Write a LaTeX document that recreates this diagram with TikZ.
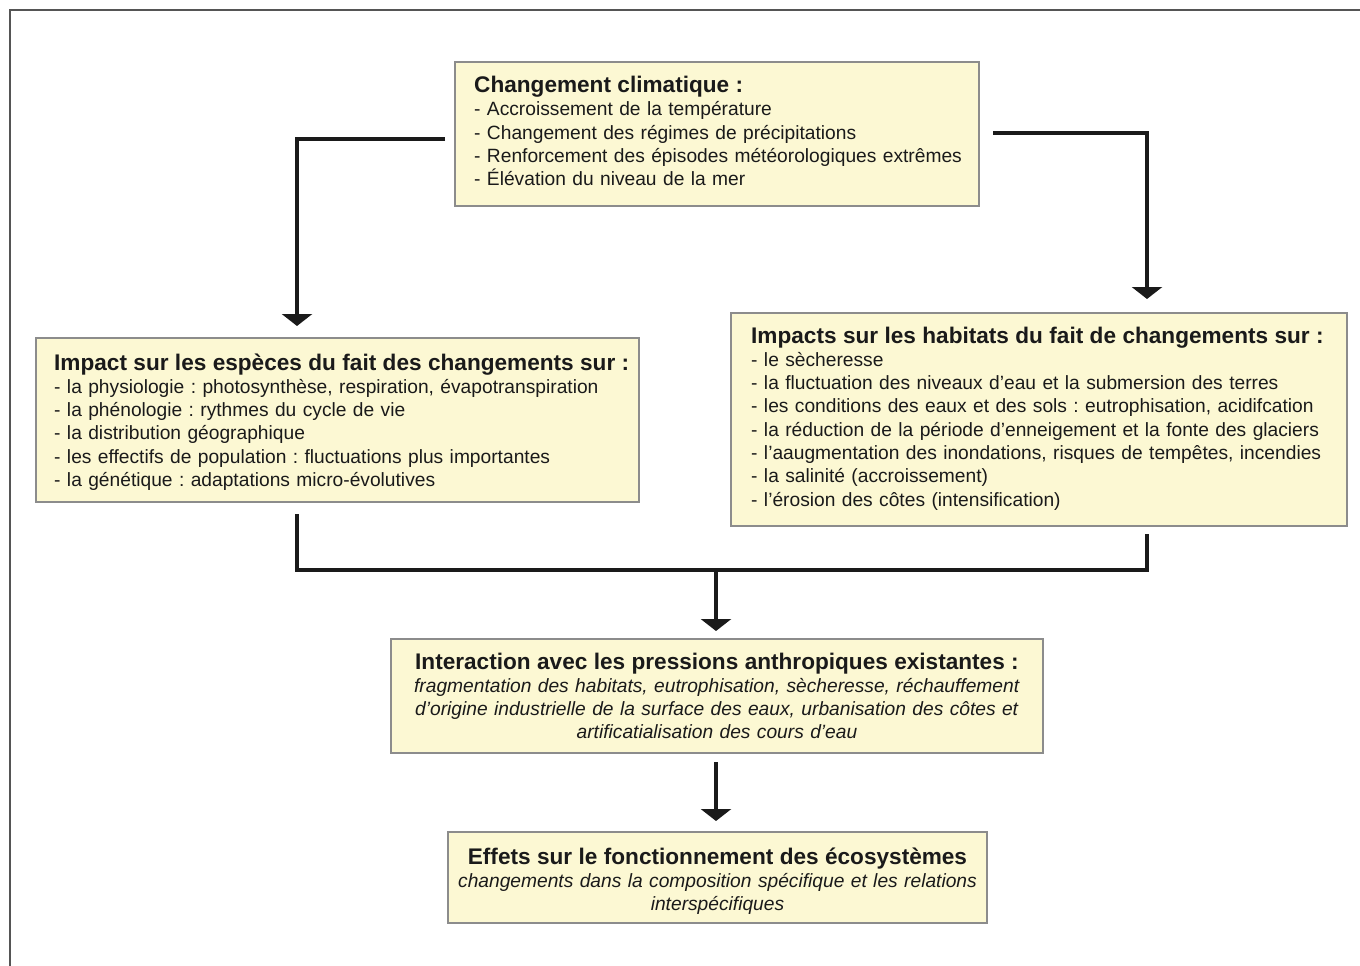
\documentclass[tikz,border=0pt]{standalone}
\usepackage{fontspec}
\setmainfont{Liberation Sans}
\usetikzlibrary{arrows.meta}
\definecolor{boxfill}{HTML}{FCF8D3}
\definecolor{boxline}{HTML}{8C8C8C}
\definecolor{ink}{HTML}{1A1A1A}
\definecolor{framegray}{HTML}{555555}
\newcommand{\ttl}[1]{{\fontsize{22.6}{23.3}\selectfont\bfseries #1}}
\frenchspacing
\begin{document}
\begin{tikzpicture}[x=1pt,y=-1pt,
  box/.style={draw=boxline, fill=boxfill, line width=1.2pt, inner sep=0pt},
  txt/.style={inner sep=0pt, text=ink, font=\fontsize{19.2}{23.3}\selectfont},
  conn/.style={draw=ink, line width=4pt},
  arr/.style={conn, -{Triangle[width=30pt,length=12pt]}}]
\useasboundingbox (0,0) rectangle (1360,966);
\fill[white] (0,0) rectangle (1360,966);
\draw[framegray, line width=2pt] (10,966) -- (10,10) -- (1360,10);

% boxes
\node[box, minimum width=524pt, minimum height=144pt] (top) at (717,134) {};
\node[box, minimum width=603pt, minimum height=164pt] (esp) at (337.5,420) {};
\node[box, minimum width=616pt, minimum height=213pt] (hab) at (1039,419.5) {};
\node[box, minimum width=652pt, minimum height=114pt] (inter) at (717,696) {};
\node[box, minimum width=539pt, minimum height=91pt] (eff) at (717.5,877.5) {};

% texts
\node[txt, anchor=base west, text width=560pt, align=left] (toptxt) at (474,92.5)
 {\ttl{Changement climatique :}\\
  - Accroissement de la température\\
  - Changement des régimes de précipitations\\
  - Renforcement des épisodes météorologiques extrêmes\\
  - Élévation du niveau de la mer};
\node[txt, anchor=base west, text width=640pt, align=left] (esptxt) at (54,370)
 {\ttl{Impact sur les espèces du fait des changements sur :}\\
  - la physiologie : photosynthèse, respiration, évapotranspiration\\
  - la phénologie : rythmes du cycle de vie\\
  - la distribution géographique\\
  - les effectifs de population : fluctuations plus importantes\\
  - la génétique : adaptations micro-évolutives};
\node[txt, anchor=base west, text width=640pt, align=left] (habtxt) at (751,343)
 {\ttl{Impacts sur les habitats du fait de changements sur :}\\
  - le sècheresse\\
  - la fluctuation des niveaux d’eau et la submersion des terres\\
  - les conditions des eaux et des sols : eutrophisation, acidifcation\\
  - la réduction de la période d’enneigement et la fonte des glaciers\\
  - l’aaugmentation des inondations, risques de tempêtes, incendies\\
  - la salinité (accroissement)\\
  - l’érosion des côtes (intensification)};
\node[txt, anchor=base, text width=652pt, align=center] (intertxt) at (717,669)
 {\ttl{Interaction avec les pressions anthropiques existantes :}\\
  \textit{fragmentation des habitats, eutrophisation, sècheresse, réchauffement}\\
  \textit{d’origine industrielle de la surface des eaux, urbanisation des côtes et}\\
  \textit{artificatialisation des cours d’eau}};
\node[txt, anchor=base, text width=539pt, align=center] (efftxt) at (717.5,864)
 {\ttl{Effets sur le fonctionnement des écosystèmes}\\
  \textit{changements dans la composition spécifique et les relations}\\
  \textit{interspécifiques}};

% connectors
\coordinate (a1s) at (445,139);
\coordinate (a1e) at (297,326);
\draw[arr] (a1s) -| (a1e);
\coordinate (a2s) at (993,133);
\coordinate (a2e) at (1147,299);
\draw[arr] (a2s) -| (a2e);
\coordinate (m1) at (297,514);
\coordinate (m2) at (1147,534);
\coordinate (mj) at (716,570);
\draw[conn] (m1) |- (mj) -| (m2);
\coordinate (m3) at (716,631);
\draw[arr] (mj) -- (m3);
\coordinate (b1) at (716,762);
\coordinate (b2) at (716,821);
\draw[arr] (b1) -- (b2);
\end{tikzpicture}
\end{document}
